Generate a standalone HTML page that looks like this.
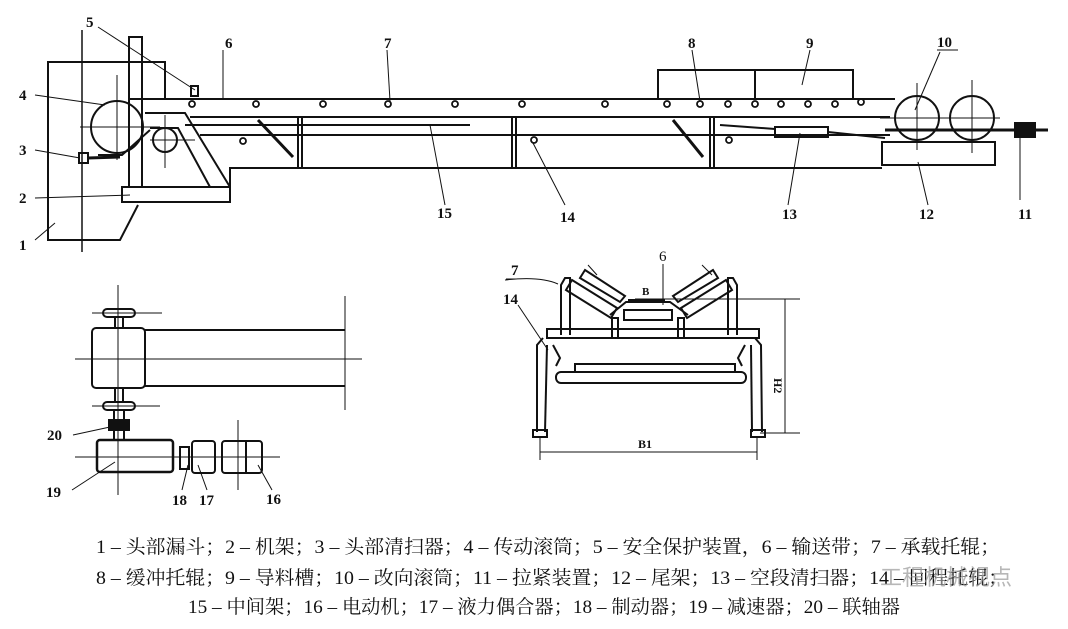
<!DOCTYPE html>
<html><head><meta charset="utf-8"><style>
html,body{margin:0;padding:0;background:#fff;width:1068px;height:629px;overflow:hidden}
svg{display:block}
text{font-family:"Liberation Serif","Noto Serif CJK SC",serif;fill:#111}
</style></head><body>
<svg width="1068" height="629" viewBox="0 0 1068 629" xmlns="http://www.w3.org/2000/svg">
<g stroke="#111" stroke-width="2" fill="none">
<!-- head chute 1 -->
<polyline points="165,100 165,62 48,62 48,240 120,240 138,205"/>
<line x1="82" y1="30" x2="82" y2="252" stroke-width="1.5"/>
<!-- frame post -->
<rect x="129" y="37" width="13" height="150"/>
<rect x="122" y="187" width="108" height="15"/>
<polyline points="145,113 185,113 230,187"/>
<polyline points="150,128 178,128 210,187"/>
<!-- head pulley -->
<circle cx="117" cy="127" r="26"/>
<line x1="80" y1="127" x2="160" y2="127" stroke-width="1"/>
<line x1="117" y1="75" x2="117" y2="160" stroke-width="1"/>
<circle cx="165" cy="140" r="12"/>
<line x1="150" y1="140" x2="195" y2="140" stroke-width="1"/>
<line x1="165" y1="115" x2="165" y2="168" stroke-width="1"/>
<path d="M98,155 L122,155 L150,130"/>
<rect x="79" y="153" width="9" height="10"/>
<line x1="88" y1="158" x2="120" y2="157" stroke-width="3"/>
<rect x="191" y="86" width="7" height="10"/>
<!-- belt and frame -->
<line x1="130" y1="99" x2="895" y2="99"/>
<line x1="190" y1="117" x2="890" y2="117"/>
<line x1="185" y1="125" x2="470" y2="125"/>
<line x1="200" y1="135" x2="890" y2="135"/>
<polyline points="230,202 230,168 882,168"/>
<line x1="298" y1="117" x2="298" y2="168"/><line x1="302" y1="117" x2="302" y2="168"/>
<line x1="512" y1="117" x2="512" y2="168"/><line x1="516" y1="117" x2="516" y2="168"/>
<line x1="710" y1="117" x2="710" y2="168"/><line x1="714" y1="117" x2="714" y2="168"/>
<line x1="258" y1="120" x2="293" y2="157" stroke-width="3"/>
<line x1="673" y1="120" x2="703" y2="157" stroke-width="3"/>
<!-- guide chute -->
<polyline points="658,99 658,70 853,70 853,99"/>
<line x1="755" y1="70" x2="755" y2="99"/>
<!-- scraper 13 -->
<rect x="775" y="127" width="53" height="10"/>
<line x1="720" y1="125" x2="775" y2="129"/>
<line x1="828" y1="132" x2="885" y2="138"/>
<!-- tail -->
<circle cx="917" cy="118" r="22"/>
<circle cx="972" cy="118" r="22"/>
<line x1="917" y1="83" x2="917" y2="150" stroke-width="1"/>
<line x1="972" y1="80" x2="972" y2="153" stroke-width="1"/>
<line x1="880" y1="118" x2="1000" y2="118" stroke-width="1"/>
<line x1="885" y1="130" x2="1048" y2="130" stroke-width="3"/>
<rect x="882" y="142" width="113" height="23"/>
<rect x="1015" y="123" width="20" height="14" fill="#111"/>
<!-- idlers -->
<g stroke-width="1.8">
<circle cx="192" cy="104" r="3"/><circle cx="256" cy="104" r="3"/><circle cx="323" cy="104" r="3"/><circle cx="388" cy="104" r="3"/><circle cx="455" cy="104" r="3"/><circle cx="522" cy="104" r="3"/><circle cx="605" cy="104" r="3"/><circle cx="667" cy="104" r="3"/><circle cx="700" cy="104" r="3"/><circle cx="728" cy="104" r="3"/><circle cx="755" cy="104" r="3"/><circle cx="781" cy="104" r="3"/><circle cx="808" cy="104" r="3"/><circle cx="835" cy="104" r="3"/><circle cx="861" cy="102" r="3"/>
<circle cx="243" cy="141" r="3"/><circle cx="534" cy="140" r="3"/><circle cx="729" cy="140" r="3"/>
</g>
<!-- leader lines -->
<g stroke-width="1">
<line x1="98" y1="27" x2="195" y2="90"/>
<line x1="223" y1="50" x2="223" y2="99"/>
<line x1="387" y1="50" x2="390" y2="101"/>
<line x1="692" y1="50" x2="700" y2="101"/>
<line x1="810" y1="50" x2="802" y2="85"/>
<line x1="940" y1="52" x2="915" y2="110"/>
<line x1="35" y1="95" x2="105" y2="105"/>
<line x1="35" y1="150" x2="80" y2="158"/>
<line x1="35" y1="198" x2="130" y2="195"/>
<line x1="35" y1="240" x2="55" y2="223"/>
<line x1="430" y1="125" x2="445" y2="205"/>
<line x1="533" y1="143" x2="565" y2="205"/>
<line x1="800" y1="133" x2="788" y2="205"/>
<line x1="918" y1="162" x2="928" y2="205"/>
<line x1="1020" y1="137" x2="1020" y2="200"/>
</g>
<!-- drive plan -->
<rect x="92" y="328" width="53" height="60" rx="4"/>
<line x1="145" y1="330" x2="345" y2="330"/>
<line x1="145" y1="386" x2="345" y2="386"/>
<line x1="75" y1="359" x2="362" y2="359" stroke-width="1"/>
<line x1="118" y1="285" x2="118" y2="495" stroke-width="1"/>
<line x1="345" y1="296" x2="345" y2="410" stroke-width="1"/>
<rect x="103" y="309" width="32" height="8" rx="4"/>
<rect x="103" y="402" width="32" height="8" rx="4"/>
<line x1="92" y1="313" x2="162" y2="313" stroke-width="1"/>
<line x1="92" y1="406" x2="160" y2="406" stroke-width="1"/>
<rect x="115" y="317" width="8" height="11"/>
<rect x="115" y="388" width="8" height="14"/>
<rect x="114" y="410" width="10" height="30"/>
<rect x="109" y="420" width="20" height="10" fill="#111"/>
<rect x="97" y="440" width="76" height="32" rx="3" stroke-width="2.5"/>
<line x1="75" y1="457" x2="280" y2="457" stroke-width="1"/>
<rect x="180" y="447" width="9" height="22"/>
<rect x="192" y="441" width="23" height="32" rx="3"/>
<rect x="222" y="441" width="40" height="32" rx="3"/>
<line x1="238" y1="420" x2="238" y2="490" stroke-width="1"/>
<line x1="246" y1="441" x2="246" y2="473"/>
<g stroke-width="1">
<line x1="73" y1="435" x2="110" y2="427"/>
<line x1="72" y1="490" x2="115" y2="462"/>
<line x1="182" y1="490" x2="188" y2="465"/>
<line x1="207" y1="490" x2="198" y2="465"/>
<line x1="272" y1="490" x2="258" y2="465"/>
</g>
<!-- cross section -->
<polyline points="561,335 561,285 565,278 570,278 570,335"/>
<polyline points="737,335 737,285 733,278 728,278 728,335"/>
<polygon points="572,280 617,308 611,318 566,290"/>
<polygon points="585,270 625,296 620,302 580,278"/>
<polygon points="726,280 681,308 687,318 732,290"/>
<polygon points="713,270 673,296 678,302 718,278"/>
<rect x="624" y="310" width="48" height="10"/>
<line x1="628" y1="300" x2="665" y2="300"/>
<polyline points="610,315 626,302 670,302 688,315"/>
<rect x="612" y="318" width="6" height="20"/>
<rect x="678" y="318" width="6" height="20"/>
<rect x="547" y="329" width="212" height="9"/>
<polyline points="543,338 537,345 537,432"/>
<polyline points="547,345 545,432"/>
<polyline points="755,338 761,345 762,432"/>
<polyline points="751,345 752,432"/>
<rect x="575" y="364" width="160" height="8"/>
<rect x="556" y="372" width="190" height="11" rx="5"/>
<polyline points="553,345 560,358 556,366"/>
<polyline points="745,345 738,358 742,366"/>
<rect x="533" y="430" width="14" height="7"/>
<rect x="751" y="430" width="14" height="7"/>
<g stroke-width="1">
<line x1="635" y1="299" x2="800" y2="299"/>
<line x1="760" y1="433" x2="800" y2="433"/>
<line x1="785" y1="299" x2="785" y2="433"/>
<line x1="540" y1="452" x2="757" y2="452"/>
<line x1="540" y1="437" x2="540" y2="460"/>
<line x1="757" y1="437" x2="757" y2="460"/>
<line x1="663" y1="264" x2="663" y2="305"/>
<path d="M505,280 Q540,276 558,284"/>
<line x1="518" y1="305" x2="548" y2="350"/>
<line x1="588" y1="265" x2="597" y2="275"/>
<line x1="702" y1="265" x2="712" y2="275"/>
</g>
</g>
<g font-size="15" font-weight="bold">
<text x="86" y="27">5</text><text x="225" y="48">6</text><text x="384" y="48">7</text><text x="688" y="48">8</text><text x="806" y="48">9</text><text x="937" y="47">10</text>
<text x="19" y="100">4</text><text x="19" y="155">3</text><text x="19" y="203">2</text><text x="19" y="250">1</text>
<text x="437" y="218">15</text><text x="560" y="222">14</text><text x="782" y="219">13</text><text x="919" y="219">12</text><text x="1018" y="219">11</text>
<text x="47" y="440">20</text><text x="46" y="497">19</text><text x="172" y="505">18</text><text x="199" y="505">17</text><text x="266" y="504">16</text>
<text x="511" y="275">7</text><text x="503" y="304">14</text><text x="659" y="261" font-weight="normal">6</text>
<text x="642" y="295" font-size="11">B</text><text x="638" y="448" font-size="12">B1</text>
<text x="0" y="0" font-size="12" transform="translate(774,378) rotate(90)">H2</text>
</g>
<line x1="937" y1="50" x2="958" y2="50" stroke="#111" stroke-width="1"/>
<line x1="506" y1="279" x2="516" y2="279" stroke="#111" stroke-width="1"/>
<g font-size="19">
<text x="96" y="553" textLength="904" lengthAdjust="spacingAndGlyphs">1 – 头部漏斗；2 – 机架；3 – 头部清扫器；4 – 传动滚筒；5 – 安全保护装置，6 – 输送带；7 – 承载托辊；</text>
<text x="96" y="584" textLength="912" lengthAdjust="spacingAndGlyphs">8 – 缓冲托辊；9 – 导料槽；10 – 改向滚筒；11 – 拉紧装置；12 – 尾架；13 – 空段清扫器；14 – 回程托辊；</text>
<text x="188" y="613" textLength="712" lengthAdjust="spacingAndGlyphs">15 – 中间架；16 – 电动机；17 – 液力偶合器；18 – 制动器；19 – 减速器；20 – 联轴器</text>
</g>
<text x="880" y="585" font-size="22" style="fill:#999;font-family:'Liberation Sans','Noto Sans CJK SC',sans-serif" opacity="0.7">工程机械视点</text>
</svg>
</body></html>
